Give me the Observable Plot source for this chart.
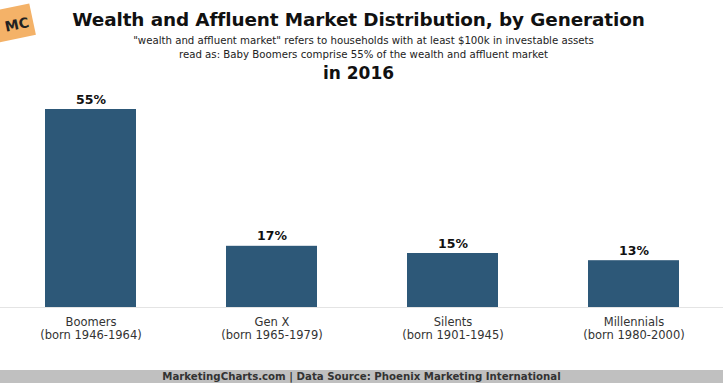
<!DOCTYPE html>
<html>
<head>
<meta charset="utf-8">
<script src="https://cdn.jsdelivr.net/npm/d3@7"></script>
<script src="https://cdn.jsdelivr.net/npm/@observablehq/plot@0.6"></script>
<style>
  html, body { margin: 0; padding: 0; background: #fff; }
  #wrap { position: relative; width: 723px; height: 383px; overflow: hidden; background: #fff; font-family: "DejaVu Sans", Verdana, sans-serif; }
  .abs { position: absolute; left: 0; width: 723px; text-align: center; color: #111; }
  #title { top: 9px; left: -3px; font-size: 18.4px; font-weight: bold; letter-spacing: -0.1px; }
  #sub { top: 34px; left: 2px; font-size: 10.2px; line-height: 14px; color: #222; }
  #year { top: 63px; left: -3px; font-size: 17px; font-weight: bold; }
  #logo { position: absolute; left: -5px; top: 7px; width: 38px; height: 32px; background: #f4b268; transform: rotate(-12deg); font: bold 14px "DejaVu Sans", sans-serif; color: #222; display: flex; align-items: center; justify-content: center; padding-left: 5px; padding-top: 4px; box-sizing: border-box; }
  #footer { position: absolute; left: 0; top: 370px; width: 723px; height: 13px; background: #c0c0c0; text-align: center; font-size: 10.2px; font-weight: bold; line-height: 14px; color: #333; }
  #chart { position: absolute; left: 0; top: 90px; }
</style>
</head>
<body>
<div id="wrap">
  <div id="logo">MC</div>
  <div class="abs" id="title">Wealth and Affluent Market Distribution, by Generation</div>
  <div class="abs" id="sub">"wealth and affluent market" refers to households with at least $100k in investable assets<br>read as: Baby Boomers comprise 55% of the wealth and affluent market</div>
  <div class="abs" id="year">in 2016</div>
  <div id="chart"></div>
  <div id="footer">MarketingCharts.com | Data Source: Phoenix Marketing International</div>
</div>
<script>
const generations = ["Boomers", "Gen X", "Silents", "Millennials"];
const birthRanges = ["(born 1946-1964)", "(born 1965-1979)", "(born 1901-1945)", "(born 1980-2000)"];
const shares = [55, 17, 15, 13];

const data = generations.map((g, i) => ({gen: g, born: birthRanges[i], value: shares[i]}));
const labelOf = Object.fromEntries(generations.map((g, i) => [g, g + "\n" + birthRanges[i]]));

const chart = Plot.plot({
  width: 723,
  height: 265,
  marginTop: 19,
  marginBottom: 48,
  marginLeft: 0,
  marginRight: 0,
  style: {fontFamily: "DejaVu Sans, Verdana, sans-serif", background: "transparent"},
  x: {domain: generations, paddingInner: 0.5, paddingOuter: 0.24, label: null},
  y: {domain: [0, 55], axis: null},
  marks: [
    Plot.ruleY([0], {stroke: "#e4e4e4", strokeWidth: 1}),
    Plot.barY(data, {x: "gen", y: "value", fill: "#2d5878"}),
    Plot.text(data, {x: "gen", y: "value", text: d => d.value + "%", dy: -10, fontWeight: "bold", fontSize: 12.5, fill: "#111"}),
    Plot.axisX({tickSize: 0, tickPadding: 9, fontSize: 11.5, tickFormat: d => labelOf[d], lineHeight: 1.13, fill: "#333"})
  ]
});
document.getElementById("chart").appendChild(chart);
</script>
</body>
</html>
